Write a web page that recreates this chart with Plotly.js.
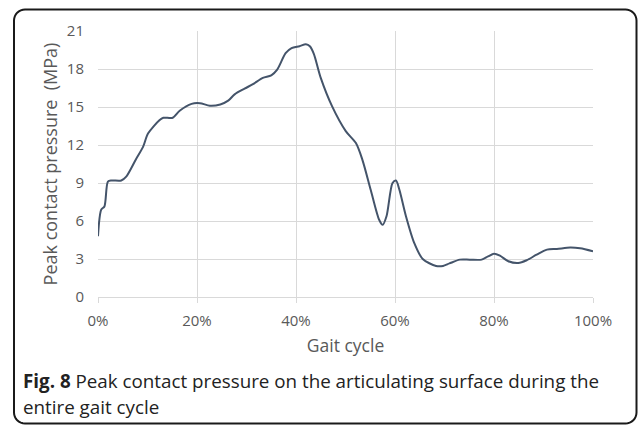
<!DOCTYPE html>
<html>
<head>
<meta charset="utf-8">
<script src="https://cdn.plot.ly/plotly-3.0.1.min.js"></script>
<style>
  html, body { margin: 0; padding: 0; background: #ffffff; }
  #chart { width: 639px; height: 425px; }
</style>
</head>
<body>
<div id="chart"></div>
<script>
// Gait cycle (%) and peak contact pressure (MPa)
const gaitPct = [0, 0.65, 1.3, 2.0, 2.7, 4.7, 5.7, 7.7, 9.1, 10.1, 12.4, 13.2, 15.1, 16.5, 18.9, 20.6, 22.6, 24.7, 26.3, 27.6, 29.6, 31.3, 33.3, 35.0, 36.2, 37.9, 39.1, 40.7, 42.0, 42.8, 43.6, 45.0, 47.3, 50.05, 52.1, 53.4, 55.1, 56.8, 57.5, 58.3, 59.5, 60.2, 60.9, 62.2, 63.9, 65.6, 68.3, 69.7, 71.0, 73.1, 75.1, 77.5, 78.8, 80.0, 81.2, 82.9, 84.9, 86.6, 88.6, 90.7, 92.7, 95.4, 97.4, 100];
const pressure = [4.8, 6.9, 7.15, 9.1, 9.2, 9.2, 9.5, 10.9, 11.85, 12.9, 13.95, 14.15, 14.15, 14.7, 15.25, 15.3, 15.1, 15.2, 15.5, 16.0, 16.45, 16.8, 17.3, 17.5, 17.95, 19.25, 19.65, 19.8, 19.95, 19.8, 19.2, 17.3, 15.05, 13.1, 12.15, 10.85, 8.45, 6.1, 5.7, 6.4, 9.0, 9.2, 8.45, 6.4, 4.25, 3.0, 2.45, 2.45, 2.65, 2.95, 2.95, 2.95, 3.2, 3.42, 3.26, 2.82, 2.68, 2.9, 3.34, 3.74, 3.79, 3.9, 3.84, 3.6];

const xTickVals = [0, 20, 40, 60, 80, 100];
const xTickText = ['0%', '20%', '40%', '60%', '80%', '100%'];
const yTickVals = [0, 3, 6, 9, 12, 15, 18, 21];

const xTitle = 'Gait cycle';
const yTitle = 'Peak contact pressure&nbsp;&nbsp;(MPa)';
const captionBold = 'Fig. 8';
const captionLine1 = 'Peak contact pressure on the articulating surface during the';
const captionLine2 = 'entire gait cycle';

// page geometry
const W = 639, H = 425;
const M = {l: 98, r: 46, t: 31, b: 128};
const pw = W - M.l - M.r, ph = H - M.t - M.b;
const px = v => (v - M.l) / pw;           // pixel x -> paper x
const py = v => (H - M.b - v) / ph;       // pixel y -> paper y

function roundRectPath(x0, y0, x1, y1, r) {
  const pts = [];
  const arc = (cx, cy, a0, a1) => {
    for (let i = 0; i <= 8; i++) {
      const a = a0 + (a1 - a0) * i / 8;
      pts.push([cx + r * Math.cos(a), cy + r * Math.sin(a)]);
    }
  };
  arc(x0 + r, y0 + r, Math.PI, 1.5 * Math.PI);
  arc(x1 - r, y0 + r, 1.5 * Math.PI, 2 * Math.PI);
  arc(x1 - r, y1 - r, 0, 0.5 * Math.PI);
  arc(x0 + r, y1 - r, 0.5 * Math.PI, Math.PI);
  return 'M ' + pts.map(p => px(p[0]).toFixed(5) + ',' + py(p[1]).toFixed(5)).join(' L ') + ' Z';
}

const grey = '#595959';
const gridCol = '#d9d9d9';
const capFont = {family: '"Open Sans", sans-serif', size: 18.8, color: '#222222'};

const trace = {
  x: gaitPct,
  y: pressure,
  type: 'scatter',
  mode: 'lines',
  line: {color: '#44546a', width: 2, shape: 'spline', smoothing: 0.8},
  hoverinfo: 'skip'
};

const layout = {
  width: W, height: H,
  margin: M,
  paper_bgcolor: '#ffffff',
  plot_bgcolor: '#ffffff',
  showlegend: false,
  font: {family: '"Open Sans", sans-serif', color: grey},
  xaxis: {
    range: [0, 100],
    tickvals: xTickVals,
    ticktext: xTickText,
    showgrid: true, gridcolor: gridCol, gridwidth: 1,
    zeroline: false,
    showline: true, linecolor: gridCol, linewidth: 1,
    ticks: 'outside', ticklen: 5, tickcolor: gridCol,
    tickfont: {size: 15, color: grey},
    ticklabelstandoff: 5,
    title: {text: xTitle, font: {size: 17.5, color: grey}, standoff: 10},
    fixedrange: true
  },
  yaxis: {
    range: [0, 21],
    tickvals: yTickVals,
    showgrid: true, gridcolor: gridCol, gridwidth: 1,
    zeroline: false,
    showline: false,
    ticks: '',
    tickfont: {size: 15, color: grey},
    ticklabelstandoff: 13,
    title: {text: yTitle, font: {size: 18, color: grey}, standoff: 4},
    fixedrange: true
  },
  shapes: [{
    type: 'path', xref: 'paper', yref: 'paper',
    path: roundRectPath(14, 9.5, 636.5, 423.5, 11),
    line: {color: '#1a1a1a', width: 2},
    fillcolor: 'rgba(0,0,0,0)', layer: 'above'
  }],
  annotations: [{
    xref: 'paper', yref: 'paper',
    x: px(21), y: py(381),
    xanchor: 'left', yanchor: 'middle', align: 'left',
    showarrow: false,
    text: '<b>' + captionBold + '</b> ' + captionLine1,
    font: capFont
  }, {
    xref: 'paper', yref: 'paper',
    x: px(21), y: py(407),
    xanchor: 'left', yanchor: 'middle', align: 'left',
    showarrow: false,
    text: captionLine2,
    font: capFont
  }]
};

Plotly.newPlot('chart', [trace], layout, {displayModeBar: false, staticPlot: true});
</script>
</body>
</html>
